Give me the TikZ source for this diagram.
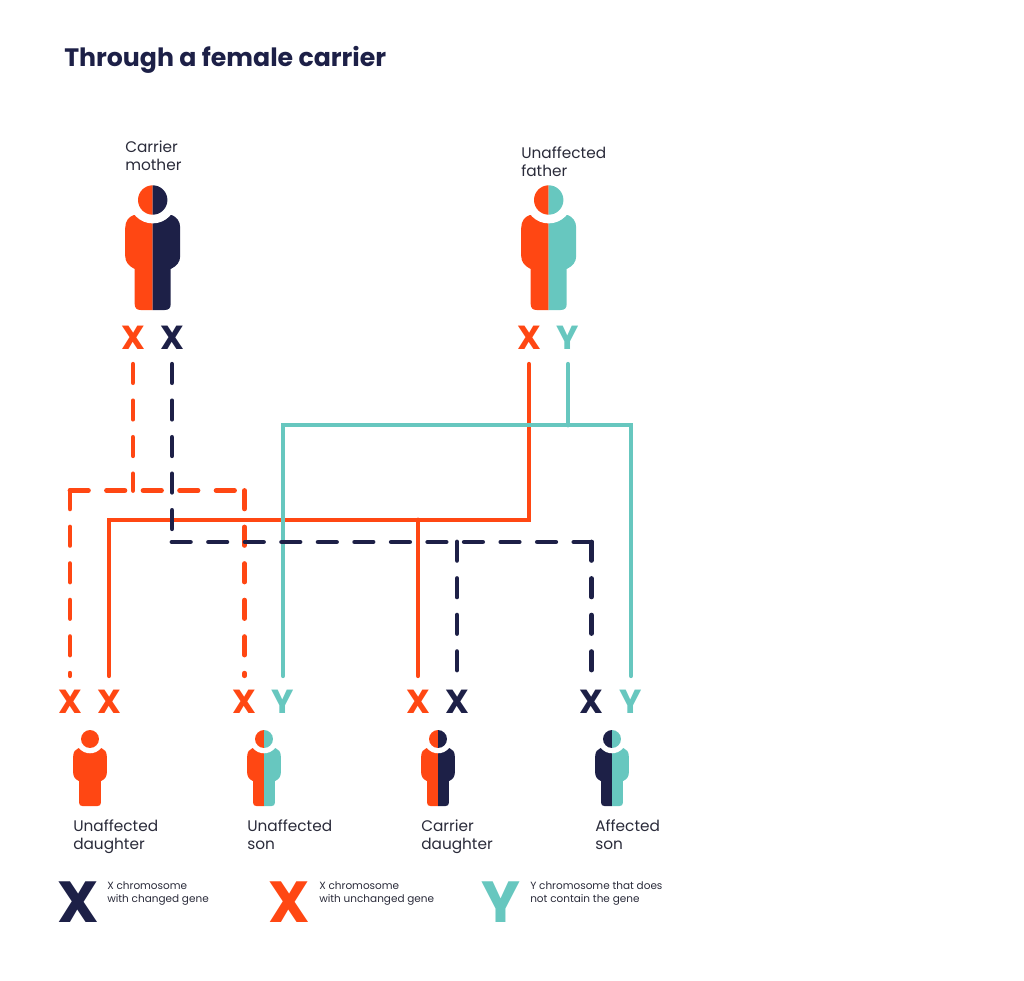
\documentclass[tikz,border=0pt]{standalone}
\usepackage{fontspec}
\setmainfont{Poppins}
\definecolor{carrot}{HTML}{FF4713}
\definecolor{navy}{HTML}{1D2047}
\definecolor{sea}{HTML}{67C7BF}
\definecolor{ink}{HTML}{2A2B3A}
\tikzset{
  chromo/.style={font=\bfseries\fontsize{25}{25}\selectfont, inner sep=0pt, minimum height=39pt},
  keychromo/.style={font=\bfseries\fontsize{43.5}{43.5}\selectfont, inner sep=0pt},
  caption/.style={text=ink, anchor=north west, align=left, inner sep=0pt,
    font=\fontsize{11.5}{13.5}\selectfont},
  keytext/.style={text=ink, anchor=north west, align=left, inner sep=0pt,
    font=\fontsize{7.85}{9.8}\selectfont},
  line/.style={line width=3.6pt, line cap=round},
  dashline/.style={line, dash pattern=on 13.8pt off 13.6pt},
  pics/person/.style 2 args={code={
    \begin{scope}
      \clip (-30,-20) rectangle (0,115);
      \fill[#1] (-19,15) .. controls (-24,17) and (-27.5,21) .. (-27.5,28) -- (-27.5,56)
        .. controls (-27.5,62) and (-24,66) .. (-18,69) -- (-18,104)
        .. controls (-18,108) and (-16,110) .. (-12,110) -- (0,110) -- (0,15) -- cycle;
    \end{scope}
    \begin{scope}
      \clip (0,-20) rectangle (30,115);
      \fill[#2] (19,15) .. controls (24,17) and (27.5,21) .. (27.5,28) -- (27.5,56)
        .. controls (27.5,62) and (24,66) .. (18,69) -- (18,104)
        .. controls (18,108) and (16,110) .. (12,110) -- (0,110) -- (0,15) -- cycle;
    \end{scope}
    \fill[white] (0,0) circle (23.4);
    \begin{scope}
      \clip (-30,-20) rectangle (0,20);
      \fill[#1] (0,0) circle (14.7);
    \end{scope}
    \begin{scope}
      \clip (0,-20) rectangle (30,20);
      \fill[#2] (0,0) circle (14.7);
    \end{scope}
  }}
}
\begin{document}
\begin{tikzpicture}[x=0.75pt,y=-0.75pt]
  \useasboundingbox (0,0) rectangle (1024,981);
  \node[anchor=west, inner sep=0pt, text=navy, font=\bfseries\fontsize{18.9}{24}\selectfont] (title) at (64,60) {Through a female carrier};

  % parents
  \pic at (152.7,200) {person={carrot}{navy}};
  \pic at (548.7,200) {person={carrot}{sea}};
  \node[caption] (mothertext) at (125,141) {Carrier\\mother};
  \node[caption] (fathertext) at (521,147) {Unaffected\\father};
  \node[chromo, carrot] (mx1) at (133,338) {X};
  \node[chromo, navy] (mx2) at (172,338) {X};
  \node[chromo, carrot] (fx) at (529,338) {X};
  \node[chromo, sea] (fy) at (568,338) {Y};

  % children
  \node[chromo, carrot] (d1) at (70,702) {X};
  \node[chromo, carrot] (d2) at (109,702) {X};
  \node[chromo, carrot] (s1) at (244.5,702) {X};
  \node[chromo, sea] (s2) at (283,702) {Y};
  \node[chromo, carrot] (c1) at (418,702) {X};
  \node[chromo, navy] (c2) at (457,702) {X};
  \node[chromo, navy] (a1) at (591.5,702) {X};
  \node[chromo, sea] (a2) at (631,702) {Y};
  \pic[scale=.61] at (90,739) {person={carrot}{carrot}};
  \pic[scale=.61] at (264,739) {person={carrot}{sea}};
  \pic[scale=.61] at (438,739) {person={carrot}{navy}};
  \pic[scale=.61] at (612,739) {person={navy}{sea}};
  \node[caption] (text1) at (73,820) {Unaffected\\daughter};
  \node[caption] (text2) at (247,820) {Unaffected\\son};
  \node[caption] (text3) at (421,820) {Carrier\\daughter};
  \node[caption] (text4) at (595,820) {Affected\\son};

  % junctions
  \coordinate (lefttop) at (70,490.5);
  \coordinate (midtop) at (133,490.5);
  \coordinate (righttop) at (244.5,490.5);
  \coordinate (navybend) at (172,542);
  \coordinate (navycorner) at (591.5,542);
  \coordinate (navyfork) at (457,542);
  \coordinate (fatherbend) at (529,520);
  \coordinate (orangefork) at (418,520);
  \coordinate (seafork) at (568,425);

  % connectors
  \draw[dashline, carrot] (mx1) -- (midtop);
  \draw[dashline, carrot] (lefttop) -- (d1);
  \draw[dashline, carrot] (lefttop) -- (righttop);
  \draw[dashline, carrot] (righttop) -- (s1);
  \draw[line, carrot] (fx) -- (fatherbend) -| (d2);
  \draw[line, carrot] (orangefork) -- (c1);
  \draw[line, sea] (fy) -- (seafork);
  \draw[line, sea] (s2) |- (a2 |- seafork) -- (a2);
  \draw[dashline, navy] (mx2) -- (navybend);
  \draw[dashline, navy] (navybend) -- (navycorner);
  \draw[dashline, navy] (navycorner) -- (a1);
  \draw[dashline, navy] (navyfork) -- (c2);

  % key
  \node[keychromo, navy] (key1) at (78,902) {X};
  \node[keychromo, carrot] (key2) at (289,902) {X};
  \node[keychromo, sea] (key3) at (500.5,902) {Y};
  \node[keytext] (keytext1) at (107,881) {X chromosome\\with changed gene};
  \node[keytext] (keytext2) at (319,881) {X chromosome\\with unchanged gene};
  \node[keytext] (keytext3) at (530,881) {Y chromosome that does\\not contain the gene};
\end{tikzpicture}
\end{document}
